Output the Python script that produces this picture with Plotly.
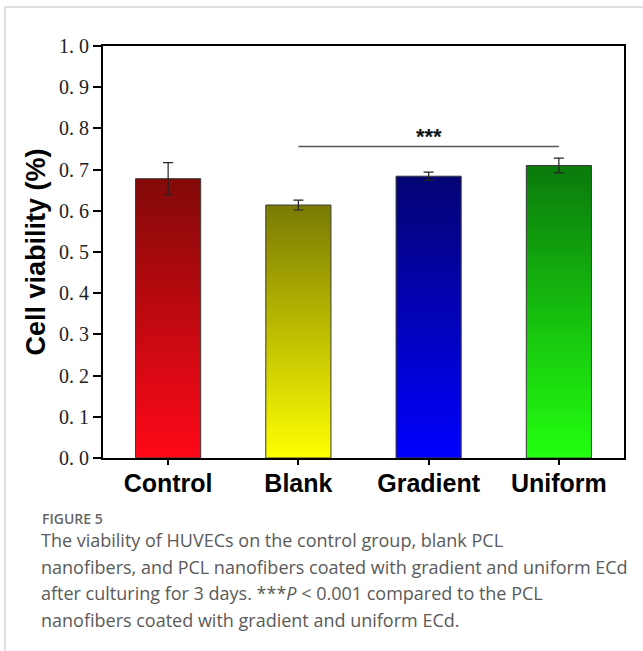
import plotly.graph_objects as go

categories = ["Control", "Blank", "Gradient", "Uniform"]
viability = [0.678, 0.614, 0.684, 0.710]
errors = [0.039, 0.012, 0.010, 0.018]
top_colors = ["#820a08", "#7a7a04", "#040472", "#0a7a0c"]
bottom_colors = ["#ff0818", "#ffff00", "#0000ff", "#22ff10"]
y_ticks = [0.0, 0.1, 0.2, 0.3, 0.4, 0.5, 0.6, 0.7, 0.8, 0.9, 1.0]
y_ticktext = ["0. 0", "0. 1", "0. 2", "0. 3", "0. 4", "0. 5", "0. 6", "0. 7", "0. 8", "0. 9", "1. 0"]
sig_from, sig_to, sig_level, sig_label = 1, 3, 0.756, "***"
caption_title = "FIGURE 5"
caption_lines = [
    "The viability of HUVECs on the control group, blank PCL",
    "nanofibers, and PCL nanofibers coated with gradient and uniform ECd",
    "after culturing for 3 days. ***<i>P</i> &lt; 0.001 compared to the PCL",
    "nanofibers coated with gradient and uniform ECd.",
]

W, H = 643, 651
L, R, T, B = 103, 19, 46, 193
pw, ph = W - L - R, H - T - B
bw = 0.5

def px_x(x):
    return (x - L) / pw

def px_y(y):
    return (H - B - y) / ph

fig = go.Figure()
xs = list(range(len(categories)))
for i, v in enumerate(viability):
    fig.add_trace(go.Scatter(
        x=[i - bw / 2, i + bw / 2, i + bw / 2, i - bw / 2, i - bw / 2],
        y=[0, 0, v, v, 0],
        mode="lines", fill="toself",
        fillgradient=dict(type="vertical",
                          colorscale=[[0, bottom_colors[i]], [1, top_colors[i]]]),
        line=dict(color="#3a3a3a", width=1),
        hoverinfo="skip", showlegend=False,
    ))

fig.add_trace(go.Scatter(
    x=xs, y=viability, mode="markers",
    marker=dict(size=1, color="rgba(0,0,0,0)"),
    error_y=dict(type="data", array=errors, visible=True,
                 color="#222222", thickness=1.2, width=5),
    showlegend=False, hoverinfo="skip",
))

fig.add_trace(go.Scatter(
    x=[sig_from, sig_to], y=[sig_level, sig_level], mode="lines",
    line=dict(color="#555555", width=1.5), showlegend=False, hoverinfo="skip",
))
fig.add_annotation(x=(sig_from + sig_to) / 2, y=sig_level, text="<b>" + sig_label + "</b>",
                   showarrow=False, yanchor="middle", yshift=10,
                   font=dict(family="Liberation Sans", size=22, color="#111111"))

fig.update_xaxes(
    range=[-0.5, len(categories) - 0.5], tickvals=xs,
    ticktext=["<b>" + c + "</b>" for c in categories],
    tickfont=dict(family="Liberation Sans", size=25, color="black"),
    ticks="outside", ticklen=5, tickwidth=1.5, tickcolor="black",
    ticklabelstandoff=-3,
    showline=True, linecolor="black", linewidth=2, mirror=True,
    showgrid=False, zeroline=False,
)
fig.update_yaxes(
    range=[0, 1.0], tickvals=y_ticks, ticktext=y_ticktext,
    tickfont=dict(family="Liberation Serif", size=20, color="#222222"),
    ticks="outside", ticklen=8, tickwidth=1.5, tickcolor="black",
    showline=True, linecolor="black", linewidth=2, mirror=True,
    showgrid=False, zeroline=False,
    title=dict(text="<b>Cell viability (%)</b>", standoff=6,
               font=dict(family="Liberation Sans", size=27, color="black")),
)

# page borders
fig.add_shape(type="line", xref="paper", yref="paper",
              x0=px_x(5), x1=px_x(643), y0=px_y(7), y1=px_y(7),
              line=dict(color="#d4d4d4", width=1.5))
fig.add_shape(type="line", xref="paper", yref="paper",
              x0=px_x(5), x1=px_x(5), y0=px_y(7), y1=px_y(651),
              line=dict(color="#d4d4d4", width=1.5))

fig.add_annotation(xref="paper", yref="paper", x=px_x(40), y=px_y(518),
                   xanchor="left", yanchor="middle", showarrow=False,
                   text=caption_title,
                   font=dict(family="Open Sans", size=14, color="#666666", weight=600))
for k, line in enumerate(caption_lines):
    fig.add_annotation(xref="paper", yref="paper", x=px_x(39), y=px_y(540 + 26.7 * k),
                       xanchor="left", yanchor="middle", showarrow=False,
                       text=line,
                       font=dict(family="Open Sans", size=18, color="#5a5a5a"))

fig.update_layout(
    width=W, height=H, margin=dict(l=L, r=R, t=T, b=B),
    plot_bgcolor="white", paper_bgcolor="white",
)
fig.write_html("out.html", config={"displayModeBar": False},
               post_script="document.body.style.margin='0';document.body.style.overflow='hidden';")
